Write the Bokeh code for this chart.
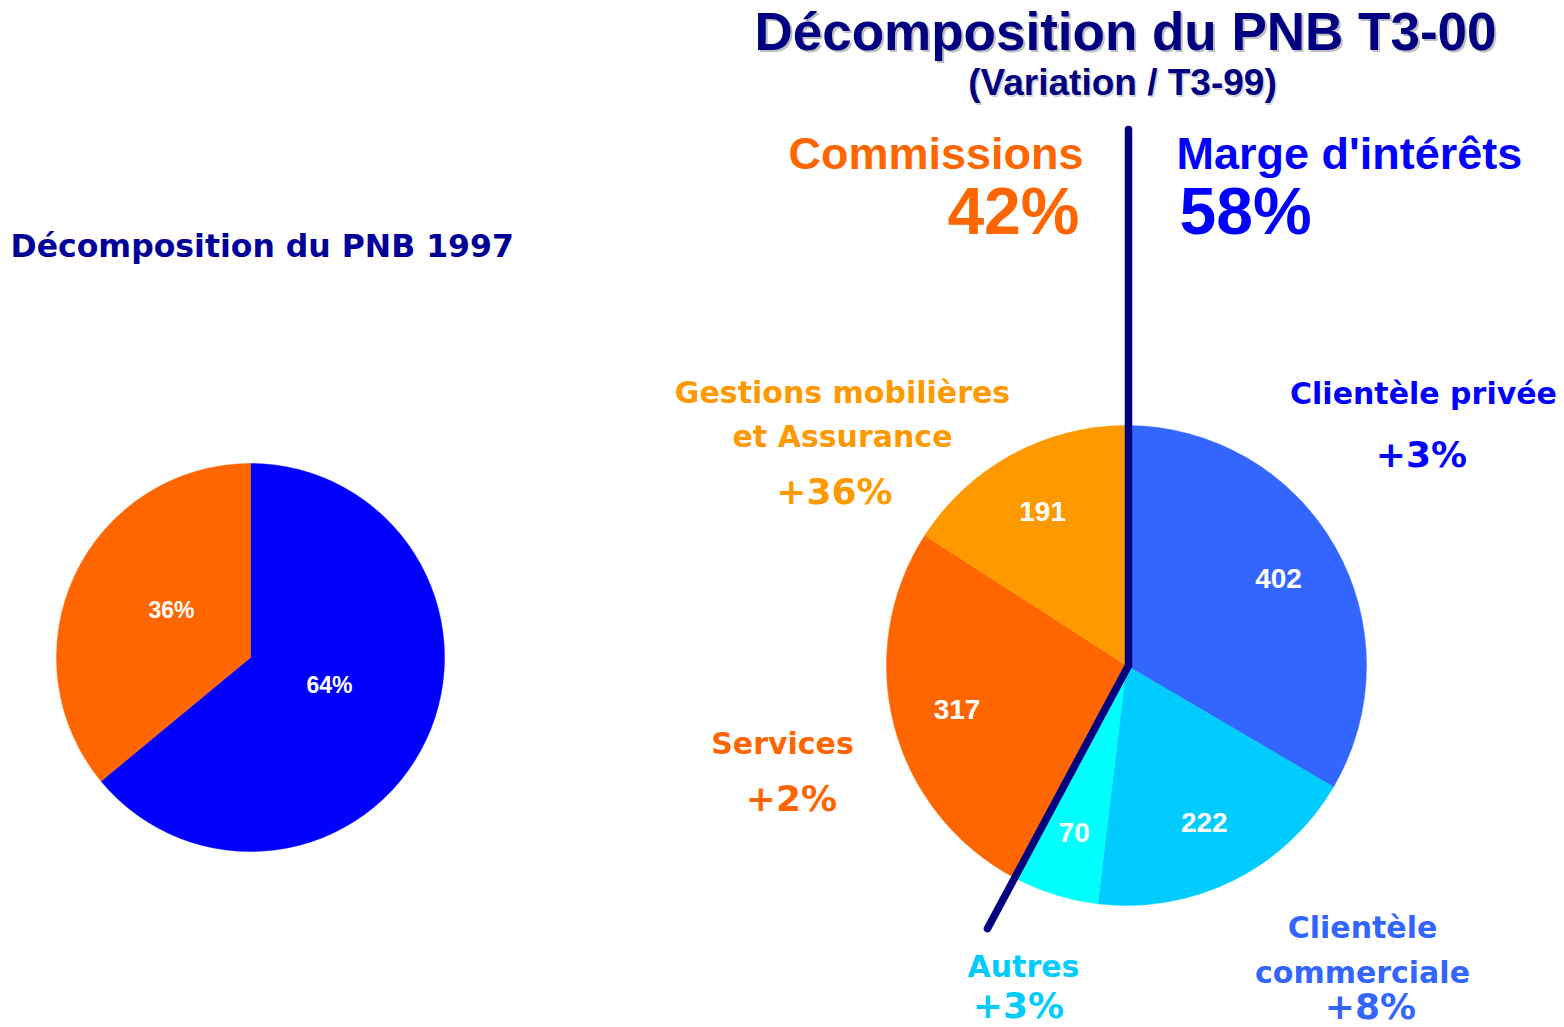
import math
from bokeh.plotting import figure
from bokeh.models import Range1d, ColumnDataSource
from bokeh.core.properties import value
from bokeh.embed import file_html
from bokeh.resources import INLINE

# ---------------- data ----------------
pie1997_names = ["Marge d'intérêts", "Commissions"]
pie1997_shares = [64, 36]
pie1997_colors = ["#0000FF", "#FF6600"]

t3_categories = ["Clientèle privée", "Clientèle commerciale", "Autres", "Services",
                 "Gestions mobilières et Assurance"]
t3_values = [402, 222, 70, 317, 191]
t3_variation = ["+3%", "+8%", "+3%", "+2%", "+36%"]
t3_colors = ["#3366FF", "#00CCFF", "#00FFFF", "#FF6600", "#FF9900"]
t3_label_colors = ["#0000FF", "#3366FF", "#00CCFF", "#FF6600", "#FF9900"]
t3_label_lines = [["Clientèle privée"], ["Clientèle", "commerciale"], ["Autres"],
                  ["Services"], ["Gestions mobilières", "et Assurance"]]
t3_group = ["Marge d'intérêts", "Marge d'intérêts", "Marge d'intérêts", "Commissions", "Commissions"]

title_main = "Décomposition du PNB T3-00"
title_sub = "(Variation / T3-99)"
title_1997 = "Décomposition du PNB 1997"

# ---------------- layout (screen px) ----------------
W, H = 1564, 1027
def sx(x):
    return x
def sy(y):
    return H - y

NAVY = "#000080"
NARROW = value("Liberation Sans")
WIDE = value("DejaVu Sans")

p = figure(width=W, height=H, x_range=Range1d(0, W), y_range=Range1d(0, H),
           output_backend="svg", toolbar_location=None, min_border=0,
           outline_line_color=None, background_fill_color="white")
p.axis.visible = False
p.grid.visible = False

def draw_pie(cx, cy, r, vals, colors):
    total = float(sum(vals))
    cum = 0.0
    starts, ends, mids = [], [], []
    for v in vals:
        a0 = math.pi / 2 - 2 * math.pi * (cum + v) / total
        a1 = math.pi / 2 - 2 * math.pi * cum / total
        starts.append(a0)
        ends.append(a1)
        mids.append((a0 + a1) / 2)
        cum += v
    src = ColumnDataSource(dict(x=[sx(cx)] * len(vals), y=[sy(cy)] * len(vals),
                                s=starts, e=ends, c=colors))
    p.wedge(x="x", y="y", radius=r, start_angle="s", end_angle="e",
            fill_color="c", line_color="c", line_width=0.5, source=src)
    return mids

# ---------------- 1997 pie ----------------
c1x, c1y, r1 = 250, 657, 194
mids1 = draw_pie(c1x, c1y, r1, pie1997_shares, pie1997_colors)
lab1 = dict(x=[sx(c1x) + 0.45 * r1 * math.cos(m) for m in mids1],
            y=[sy(c1y) + 0.45 * r1 * math.sin(m) + 10 for m in mids1],
            t=["%d%%" % v for v in pie1997_shares])
p.text(x="x", y="y", text="t", source=ColumnDataSource(lab1), text_color="white",
       text_font=NARROW, text_font_style="bold", text_font_size="23px",
       text_align="center", text_baseline="middle")

p.text(x=[sx(10)], y=[sy(245)], text=[title_1997], text_color="#000099",
       text_font=WIDE, text_font_style="bold", text_font_size="31.5px",
       text_align="left", text_baseline="middle")

# ---------------- T3-00 pie ----------------
c2x, c2y, r2 = 1126, 665, 240
mids2 = draw_pie(c2x, c2y, r2, t3_values, t3_colors)
lab2 = dict(x=[sx(c2x) + 0.73 * r2 * math.cos(m) for m in mids2],
            y=[sy(c2y) + 0.73 * r2 * math.sin(m) for m in mids2],
            t=[str(v) for v in t3_values])
p.text(x="x", y="y", text="t", source=ColumnDataSource(lab2), text_color="white",
       text_font=NARROW, text_font_style="bold", text_font_size="28px",
       text_align="center", text_baseline="middle")

# divider line between the two groups
total2 = float(sum(t3_values))
marge_sum = sum(v for v, g in zip(t3_values, t3_group) if g == "Marge d'intérêts")
comm_sum = total2 - marge_sum
bound = math.pi / 2 - 2 * math.pi * marge_sum / total2
ext = 1.24 * r2
p.line(x=[sx(1128), sx(1128), sx(c2x) + ext * math.cos(bound)],
       y=[sy(129), sy(c2y), sy(c2y) + ext * math.sin(bound)],
       line_color=NAVY, line_width=7.5, line_cap="round", line_join="miter")

# external category labels: (center x, first-line center y, line gap, var center x, var center y)
label_layout = [
    (1423, 393, 0, 1421, 454),
    (1362, 927, 45, 1370, 1006),
    (1023, 966, 0, 1018, 1005),
    (782, 743, 0, 791, 798),
    (842, 392, 44, 834, 491),
]
for lines, var, col, (lx, ly, gap, vx, vy) in zip(t3_label_lines, t3_variation,
                                                  t3_label_colors, label_layout):
    p.text(x=[sx(lx)] * len(lines), y=[sy(ly + i * gap) for i in range(len(lines))],
           text=lines, text_color=col, text_font=WIDE, text_font_style="bold",
           text_font_size="30px", text_align="center", text_baseline="middle")
    p.text(x=[sx(vx)], y=[sy(vy)], text=[var], text_color=col, text_font=WIDE,
           text_font_style="bold", text_font_size="36px", text_align="center",
           text_baseline="middle")

# group headers
pct_comm = "%d%%" % round(100 * comm_sum / total2)
pct_marge = "%d%%" % round(100 * marge_sum / total2)
p.text(x=[sx(1083)], y=[sy(153)], text=["Commissions"], text_color="#FF6600",
       text_font=NARROW, text_font_style="bold", text_font_size="45px",
       text_align="right", text_baseline="middle")
p.text(x=[sx(1079)], y=[sy(210)], text=[pct_comm], text_color="#FF6600",
       text_font=NARROW, text_font_style="bold", text_font_size="66px",
       text_align="right", text_baseline="middle")
p.text(x=[sx(1176)], y=[sy(153)], text=["Marge d'intérêts"], text_color="#0000FF",
       text_font=NARROW, text_font_style="bold", text_font_size="45px",
       text_align="left", text_baseline="middle")
p.text(x=[sx(1179)], y=[sy(210)], text=[pct_marge], text_color="#0000FF",
       text_font=NARROW, text_font_style="bold", text_font_size="66px",
       text_align="left", text_baseline="middle")

# main title with light shadow
p.text(x=[sx(1127)], y=[sy(33)], text=[title_main], text_color="#BEBEBE",
       text_font=NARROW, text_font_style="bold", text_font_size="53px",
       text_align="center", text_baseline="middle")
p.text(x=[sx(1123.5)], y=[sy(83.5)], text=[title_sub], text_color="#D2D2D2",
       text_font=NARROW, text_font_style="bold", text_font_size="37px",
       text_align="center", text_baseline="middle")
p.text(x=[sx(1125)], y=[sy(31)], text=[title_main], text_color=NAVY,
       text_font=NARROW, text_font_style="bold", text_font_size="53px",
       text_align="center", text_baseline="middle")
p.text(x=[sx(1122)], y=[sy(82)], text=[title_sub], text_color=NAVY,
       text_font=NARROW, text_font_style="bold", text_font_size="37px",
       text_align="center", text_baseline="middle")

open("out.html", "w").write(file_html(p, INLINE))
